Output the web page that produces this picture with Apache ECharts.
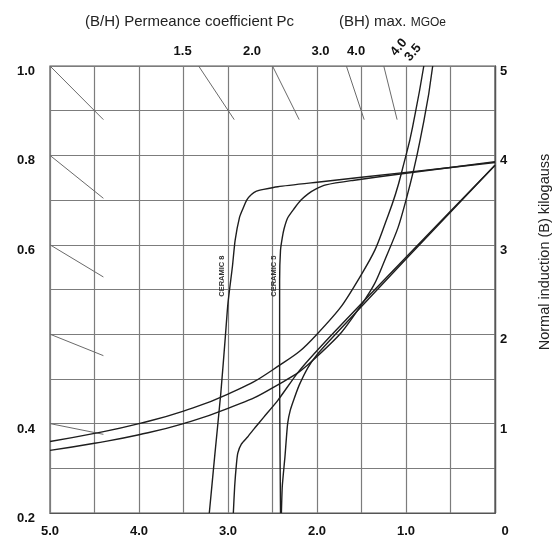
<!DOCTYPE html>
<html>
<head>
<meta charset="utf-8">
<script src="https://cdn.jsdelivr.net/npm/echarts@6/dist/echarts.min.js"></script>
<style>
html, body { margin: 0; padding: 0; background: #fff; }
#main { width: 560px; height: 542px; }
</style>
</head>
<body>
<div id="main"></div>
<script>
// demagnetization curves, H (kOe) runs 5 -> 0, B (kG) 0 -> 5
var leftTickLabels = { 5: '1.0', 4: '0.8', 3: '0.6', 1: '0.4', 0: '0.2' };
var rightTickLabels = { 5: '5', 4: '4', 3: '3', 2: '2', 1: '1' };

// permeance coefficient short segments [H, B]
var pcNames = ['1.0', '0.8', '0.6', '0.4', '0.2', '1.5', '2.0', '3.0', '4.0'];
var pcSegments = [
    [[5, 5], [4.4, 4.4]],
    [[5, 4], [4.4, 3.52]],
    [[5, 3], [4.4, 2.64]],
    [[5, 2], [4.4, 1.76]],
    [[5, 1], [4.4, 0.88]],
    [[3.33, 5], [2.93, 4.4]],
    [[2.5, 5], [2.2, 4.4]],
    [[1.67, 5], [1.47, 4.4]],
    [[1.25, 5], [1.1, 4.4]]
];

// (BH)max hyperbolas
var bh40 = [[0.8, 5], [0.9, 4.45], [1.0, 4.0], [1.2, 3.33], [1.5, 2.67], [2.0, 2.0], [2.5, 1.6], [3.0, 1.33], [3.5, 1.14], [4.0, 1.0], [4.5, 0.89], [5.0, 0.8]];
var bh35 = [[0.7, 5], [0.8, 4.38], [1.0, 3.5], [1.2, 2.92], [1.5, 2.33], [2.0, 1.75], [2.5, 1.4], [3.0, 1.17], [3.5, 1.0], [4.0, 0.875], [4.5, 0.78], [5.0, 0.7]];

// intrinsic curves
var ceramic8i = [[0, 3.92], [1, 3.81], [2, 3.70], [2.44, 3.65], [2.6, 3.62], [2.68, 3.6], [2.74, 3.56], [2.79, 3.5], [2.83, 3.41], [2.87, 3.31], [2.92, 3.05], [2.95, 2.76], [3.0, 2.35], [3.03, 1.97], [3.08, 1.35], [3.15, 0.63], [3.21, 0]];
var ceramic5i = [[0, 3.93], [1, 3.8], [1.6, 3.72], [1.9, 3.67], [2.02, 3.62], [2.1, 3.57], [2.18, 3.5], [2.26, 3.4], [2.33, 3.3], [2.37, 3.18], [2.39, 3.08], [2.41, 2.94], [2.42, 2.6], [2.42, 1.5], [2.41, 0]];
// normal curves
var ceramic8n = [[0, 3.89], [1, 2.86], [1.8, 2.03], [2.2, 1.59], [2.44, 1.26], [2.6, 1.07], [2.7, 0.95], [2.78, 0.85], [2.85, 0.77], [2.89, 0.67], [2.905, 0.55], [2.925, 0.3], [2.94, 0]];
var ceramic5n = [[0, 3.89], [1, 2.84], [1.8, 1.99], [2.0, 1.77], [2.1, 1.63], [2.2, 1.43], [2.26, 1.27], [2.3, 1.15], [2.33, 1.0], [2.36, 0.63], [2.39, 0.3], [2.4, 0]];

// text annotations placed in data coords
var topLabels = [
    { text: '1.5', at: [3.51, 5.16], rot: 0 },
    { text: '2.0', at: [2.73, 5.16], rot: 0 },
    { text: '3.0', at: [1.96, 5.16], rot: 0 },
    { text: '4.0', at: [1.56, 5.16], rot: 0 },
    { text: '4.0', at: [1.08, 5.21], rot: 50 },
    { text: '3.5', at: [0.92, 5.15], rot: 50 }
];
var curveLabels = [
    { text: 'CERAMIC 8', at: [3.07, 2.65] },
    { text: 'CERAMIC 5', at: [2.48, 2.65] }
];

var font = '"Liberation Sans", Arial, sans-serif';
var gridColor = '#7c7c7c';

var chart = echarts.init(document.getElementById('main'));

var series = [];
pcSegments.forEach(function (seg, i) {
    series.push({
        name: 'Pc ' + pcNames[i],
        type: 'line',
        data: seg,
        symbol: 'none',
        silent: true,
        lineStyle: { color: '#6a6a6a', width: 1 }
    });
});
[bh40, bh35].forEach(function (d, i) {
    series.push({
        name: i == 0 ? 'BH 4.0' : 'BH 3.5',
        type: 'line', data: d, symbol: 'none', smooth: true, silent: true,
        lineStyle: { color: '#1e1e1e', width: 1.4 }
    });
});
[ceramic8i, ceramic5i, ceramic8n, ceramic5n].forEach(function (d, i) {
    series.push({
        name: 'curve' + i,
        type: 'line', data: d, symbol: 'none', smooth: 0.2, silent: true,
        lineStyle: { color: '#1e1e1e', width: 1.4 }
    });
});

chart.setOption({
    animation: false,
    backgroundColor: '#fff',
    title: [{
        text: '(B/H) Permeance coefficient Pc',
        left: 80, top: 9,
        textStyle: { fontFamily: font, fontSize: 15, fontWeight: 'normal', color: '#222' }
    }, {
        text: '(BH) max. {s|MGOe}',
        left: 334, top: 9,
        textStyle: {
            fontFamily: font, fontSize: 15, fontWeight: 'normal', color: '#222',
            rich: { s: { fontFamily: font, fontSize: 12, color: '#222', padding: [2, 0, 0, 0] } }
        }
    }],
    grid: { left: 50, right: 63, top: 66, bottom: 29, show: true, borderColor: '#555', borderWidth: 1.2 },
    xAxis: {
        type: 'value', min: 0, max: 5, interval: 0.5, inverse: true,
        axisLine: { show: true, lineStyle: { color: '#555', width: 1.2 } },
        axisTick: { show: false },
        splitLine: { lineStyle: { color: gridColor, width: 1.2 } },
        axisLabel: {
            margin: 12,
            fontFamily: font, fontSize: 13, fontWeight: 'bold', color: '#111',
            formatter: function (v) {
                if (v % 1 !== 0) return '';
                if (v === 0) return '{z|0}';
                return v.toFixed(1);
            },
            rich: { z: { fontFamily: font, fontSize: 13, fontWeight: 'bold', color: '#111', padding: [0, 0, 0, 20] } }
        }
    },
    yAxis: [{
        type: 'value', min: 0, max: 5, interval: 0.5, position: 'left',
        axisLine: { show: true, lineStyle: { color: '#555', width: 1.2 } },
        axisTick: { show: false },
        splitLine: { lineStyle: { color: gridColor, width: 1.2 } },
        axisLabel: {
            margin: 15, verticalAlign: 'top', lineHeight: 11,
            fontFamily: font, fontSize: 13, fontWeight: 'bold', color: '#111',
            formatter: function (v) { return leftTickLabels[v] || ''; }
        }
    }, {
        type: 'value', min: 0, max: 5, interval: 0.5, position: 'right',
        axisLine: { show: true, lineStyle: { color: '#555', width: 1.2 } },
        axisTick: { show: false },
        splitLine: { show: false },
        name: 'Normal induction (B) kilogauss',
        nameLocation: 'middle', nameRotate: 90, nameGap: 42,
        nameTextStyle: { fontFamily: font, fontSize: 14.5, color: '#222', padding: [0, 0, 0, 75] },
        axisLabel: {
            margin: 5, verticalAlign: 'top', lineHeight: 11,
            fontFamily: font, fontSize: 13, fontWeight: 'bold', color: '#111',
            formatter: function (v) { return rightTickLabels[v] || ''; }
        }
    }],
    series: series
});

// put annotation texts where the data coords land
var texts = [];
topLabels.forEach(function (l) {
    var p = chart.convertToPixel({ gridIndex: 0 }, l.at);
    texts.push({
        type: 'text', x: p[0], y: p[1], rotation: l.rot * Math.PI / 180, silent: true,
        style: { text: l.text, font: 'bold 13px ' + font, fill: '#111', align: 'center', verticalAlign: 'middle' }
    });
});
curveLabels.forEach(function (l) {
    var p = chart.convertToPixel({ gridIndex: 0 }, l.at);
    texts.push({
        type: 'text', x: p[0], y: p[1], rotation: Math.PI / 2, silent: true,
        style: { text: l.text, font: 'bold 7.5px ' + font, fill: '#333', align: 'center', verticalAlign: 'middle' }
    });
});
chart.setOption({ graphic: texts });
</script>
</body>
</html>
